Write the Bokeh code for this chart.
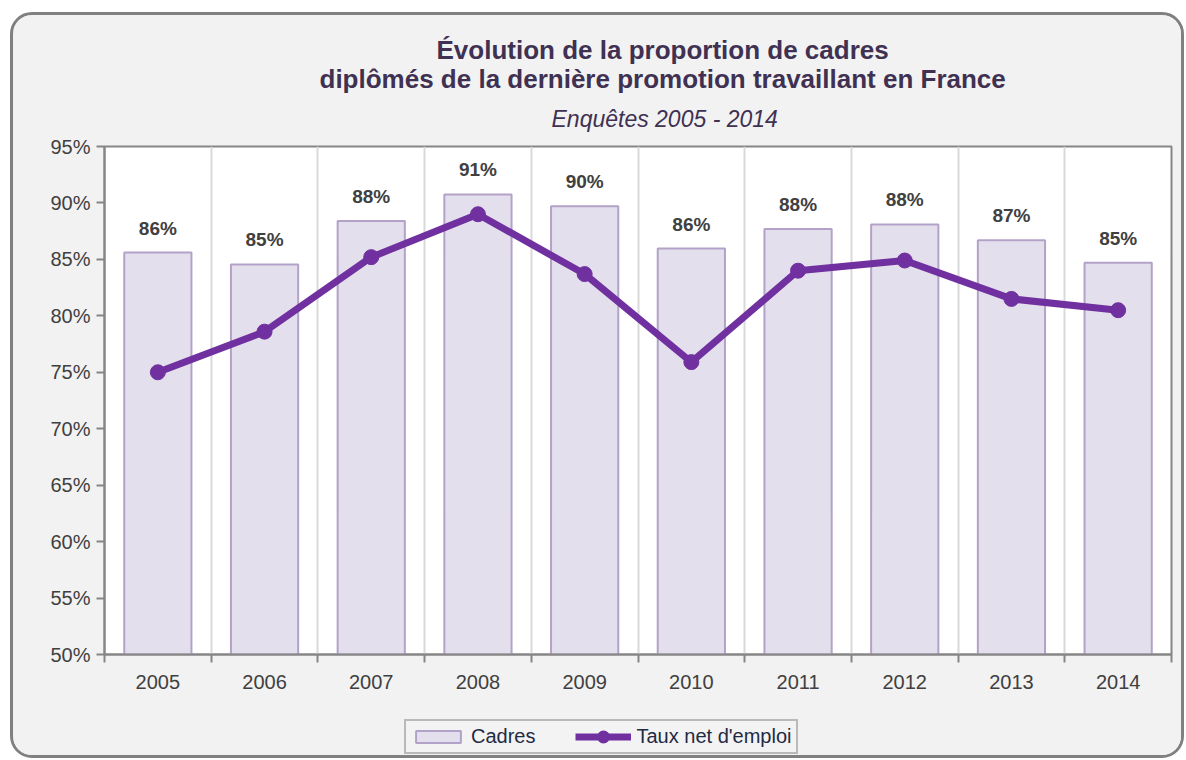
from bokeh.plotting import figure
from bokeh.models import (ColumnDataSource, Range1d, FixedTicker, LabelSet, Legend,
                          LegendItem, Title)
from bokeh.layouts import column
from bokeh.core.properties import value
from bokeh.embed import file_html
from bokeh.resources import INLINE

# ---- data ----
years = ["2005", "2006", "2007", "2008", "2009", "2010", "2011", "2012", "2013", "2014"]
cadres = [85.6, 84.55, 88.4, 90.75, 89.7, 85.96, 87.7, 88.1, 86.7, 84.7]
taux_net = [75.0, 78.6, 85.2, 89.0, 83.7, 75.9, 84.0, 84.9, 81.5, 80.5]
y_ticks = [50, 55, 60, 65, 70, 75, 80, 85, 90, 95]

FONT = "'Liberation Sans', Arial, sans-serif"
BAR_FILL, BAR_LINE, LINE_COL = "#e4dfec", "#b3a2c7", "#7030a0"

xs = list(range(len(years)))
src = ColumnDataSource(dict(
    x=xs, year=years, cadres=cadres, taux=taux_net,
    lab=[f"{round(v):d}%" for v in cadres],
))

p = figure(width=1168, height=685, output_backend="svg", toolbar_location=None,
           x_range=Range1d(-0.5, len(years) - 0.5), y_range=Range1d(50, 95),
           min_border_left=91, min_border_right=10, min_border_top=131,
           min_border_bottom=46)
p.border_fill_color = "#f2f2f2"
p.background_fill_color = "white"
p.outline_line_color = "#868686"
p.outline_line_width = 2

# titles (stacked outward from the plot frame)
sub = Title(text="Enquêtes  2005 - 2014", align="left", offset=447,
            text_font=FONT, text_font_size="23px", text_font_style="italic",
            text_color="#403152", standoff=30)
main2 = Title(text="diplômés de la dernière promotion travaillant en France",
              align="left", offset=215, text_font=FONT, text_font_size="26px",
              text_font_style="bold", text_color="#403152", standoff=-11)
main1 = Title(text="Évolution de la proportion de cadres",
              align="left", offset=332, text_font=FONT, text_font_size="26px",
              text_font_style="bold", text_color="#403152", standoff=5)
p.add_layout(sub, "above")
p.add_layout(main2, "above")
p.add_layout(main1, "above")

p.vbar(x="x", top="cadres", bottom=50, width=0.63, source=src,
       fill_color=BAR_FILL, line_color=BAR_LINE, line_width=2)
p.line(x="x", y="taux", source=src, line_color=LINE_COL, line_width=7)
p.scatter(x="x", y="taux", source=src, size=15, fill_color=LINE_COL, line_color=LINE_COL)

labels = LabelSet(x="x", y="cadres", text="lab", source=src, text_align="center",
                  text_baseline="bottom", y_offset=14, text_font=value(FONT),
                  text_font_size="19px", text_font_style="bold", text_color="#404040")
p.add_layout(labels)

# axes
p.yaxis.ticker = FixedTicker(ticks=y_ticks)
p.yaxis.major_label_overrides = {t: f"{t}%" for t in y_ticks}
p.yaxis.axis_line_color = "#868686"
p.yaxis.axis_line_width = 2
p.yaxis.major_tick_line_color = "#868686"
p.yaxis.major_tick_line_width = 2
p.yaxis.major_tick_in = 0
p.yaxis.major_tick_out = 8
p.yaxis.minor_tick_line_color = None
p.yaxis.major_label_text_font = FONT
p.yaxis.major_label_text_font_size = "20px"
p.yaxis.major_label_text_color = "#404040"
p.yaxis.major_label_standoff = 6

p.xaxis.ticker = FixedTicker(ticks=xs, minor_ticks=[i - 0.5 for i in range(len(years) + 1)])
p.xaxis.major_label_overrides = {i: y for i, y in enumerate(years)}
p.xaxis.axis_line_color = "#868686"
p.xaxis.axis_line_width = 2
p.xaxis.major_tick_line_color = None
p.xaxis.major_tick_in = 0
p.xaxis.major_tick_out = 8
p.xaxis.minor_tick_line_color = "#868686"
p.xaxis.minor_tick_line_width = 2
p.xaxis.minor_tick_in = 0
p.xaxis.minor_tick_out = 8
p.xaxis.major_label_text_font = FONT
p.xaxis.major_label_text_font_size = "20px"
p.xaxis.major_label_text_color = "#404040"
p.xaxis.major_label_standoff = 12

p.ygrid.grid_line_color = None
p.xgrid.ticker = FixedTicker(ticks=[i + 0.5 for i in range(len(years) - 1)])
p.xgrid.grid_line_color = "#d9d9d9"
p.xgrid.grid_line_width = 2

# legend strip: its own small figure, series renderers hidden (legend only)
pl = figure(width=1168, height=55, output_backend="svg", toolbar_location=None,
            x_range=Range1d(-0.5, len(years) - 0.5), y_range=Range1d(50, 95),
            x_axis_type=None, y_axis_type=None,
            min_border_left=91, min_border_right=10, min_border_top=0,
            min_border_bottom=0)
pl.border_fill_color = "#f2f2f2"
pl.background_fill_color = "#f2f2f2"
pl.outline_line_color = None
lb = pl.vbar(x="x", top="cadres", bottom=50, width=0.63, source=src,
             fill_color=BAR_FILL, line_color=BAR_LINE, line_width=2, visible=False)
ll = pl.line(x="x", y="taux", source=src, line_color=LINE_COL, line_width=7,
             visible=False)
lp = pl.scatter(x="x", y="taux", source=src, size=15, fill_color=LINE_COL,
                line_color=LINE_COL, line_width=7, visible=False)

legend = Legend(items=[LegendItem(label="Cadres", renderers=[lb]),
                       LegendItem(label="Taux net d'emploi", renderers=[ll, lp])],
                orientation="horizontal", location=(300, 1),
                background_fill_color="#f2f2f2", border_line_color="#808080",
                border_line_width=2, label_text_font=FONT, label_text_font_size="20px",
                label_text_color="#1f2a44", glyph_width=56, glyph_height=15,
                padding=4, spacing=40, label_standoff=5, margin=0,
                inactive_fill_alpha=0.0)
pl.add_layout(legend, "center")

root = column(p, pl, spacing=0,
              styles={"border": "3px solid #808080", "border-radius": "22px",
                      "margin-left": "10px", "margin-top": "12px",
                      "overflow": "hidden", "background-color": "#f2f2f2"})

open("out.html", "w").write(file_html(root, INLINE))
